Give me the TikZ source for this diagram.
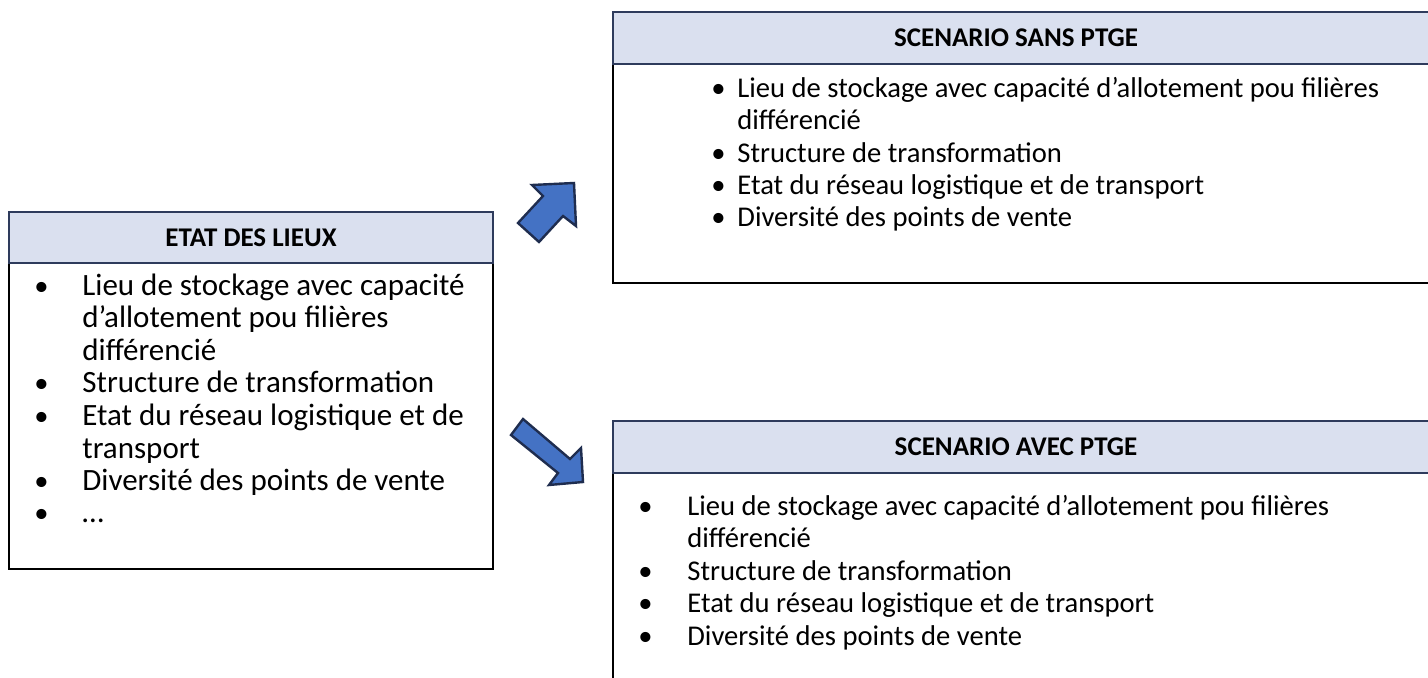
\documentclass[tikz,border=0pt]{standalone}
\usepackage{fontspec}
\setmainfont{Carlito}
\begin{document}
\begin{tikzpicture}[x=0.5pt,y=-0.5pt,
  hdr/.style={draw=hdrline,fill=hdrfill,line width=1pt},
  body/.style={draw=black,line width=1.2pt},
  htext/.style={font=\fontsize{13.5}{16}\selectfont\bfseries,anchor=center,inner sep=0pt},
  itext/.style={font=\fontsize{14.3}{16}\selectfont,anchor=west,inner sep=0pt,text height=0.72em,text depth=0.22em},
  itextA/.style={itext,font=\fontsize{15.5}{16}\selectfont},
  blockarrow/.style={draw=arrline,fill=arrfill,line width=1.2pt,line join=miter}]
\definecolor{hdrline}{HTML}{2E3B5C}
\definecolor{hdrfill}{HTML}{DAE0EF}
\definecolor{arrfill}{HTML}{4472C4}
\definecolor{arrline}{HTML}{1F2D4F}
\useasboundingbox (0,0) rectangle (1428,678);
\begin{scope}
\clip (0,0) rectangle (1428,678);
% Box 1
\draw[body] (9,263) rectangle (493,569);
\draw[hdr] (9,212) rectangle (493,263);
\node[htext] (h1) at (251,238) {ETAT DES LIEUX};
\foreach \y [count=\i] in {291,388,420,485,517}
  {\node[itext] (b1\i) at (34,\y) {•};}
\node[itextA] (l1a) at (82,291) {Lieu de stockage avec capacité};
\node[itextA] (l1b) at (82,323) {d’allotement pou filières};
\node[itextA] (l1c) at (82,356) {différencié};
\node[itextA] (l1d) at (82,388) {Structure de transformation};
\node[itextA] (l1e) at (82,420) {Etat du réseau logistique et de};
\node[itextA] (l1f) at (82,453) {transport};
\node[itextA] (l1g) at (82,485) {Diversité des points de vente};
\node[itextA] (l1h) at (82,517) {…};
% Box 2
\draw[body] (613,64) rectangle (1440,283);
\draw[hdr] (613,12) rectangle (1440,64);
\node[htext] (h2) at (1016,38) {SCENARIO SANS PTGE};
\foreach \y [count=\i] in {93,158,190,222}
  {\node[itext] (b2\i) at (711,\y) {•};}
\node[itext] (l2a) at (737,93) {Lieu de stockage avec capacité d’allotement pou filières};
\node[itext] (l2b) at (737,125) {différencié};
\node[itext] (l2c) at (737,158) {Structure de transformation};
\node[itext] (l2d) at (737,190) {Etat du réseau logistique et de transport};
\node[itext] (l2e) at (737,222) {Diversité des points de vente};
% Box 3
\draw[body] (613,473) rectangle (1440,700);
\draw[hdr] (613,421) rectangle (1440,473);
\node[htext] (h3) at (1016,447) {SCENARIO AVEC PTGE};
\foreach \y [count=\i] in {510,575,607,640}
  {\node[itext] (b3\i) at (638,\y) {•};}
\node[itext] (l3a) at (687,510) {Lieu de stockage avec capacité d’allotement pou filières};
\node[itext] (l3b) at (687,542) {différencié};
\node[itext] (l3c) at (687,575) {Structure de transformation};
\node[itext] (l3d) at (687,607) {Etat du réseau logistique et de transport};
\node[itext] (l3e) at (687,640) {Diversité des points de vente};
\end{scope}
% Arrows
\draw[blockarrow] (574,183) -- (576,226) -- (563,216) -- (539,242) -- (518,223) -- (543,196) -- (532,185) -- cycle;
\draw[blockarrow] (583,482) -- (549,485) -- (558,473) -- (511,435) -- (523,419) -- (570,459) -- (581,448) -- cycle;
\end{tikzpicture}
\end{document}
